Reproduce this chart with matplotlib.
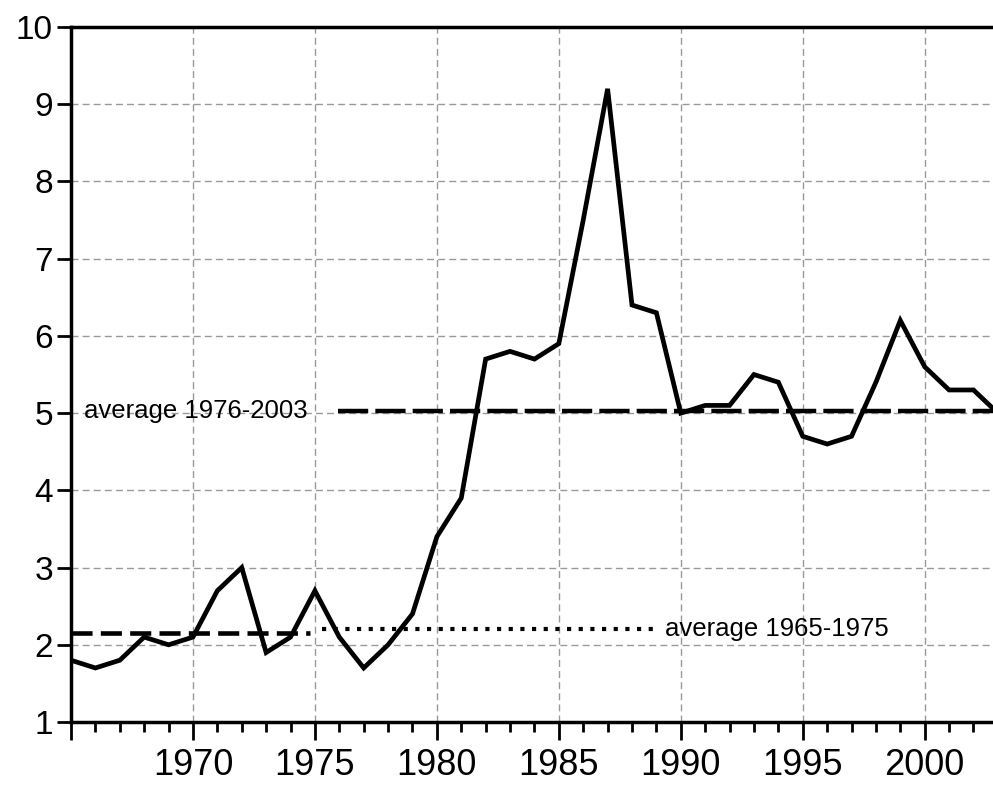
import numpy as np
import matplotlib.pyplot as plt
from matplotlib.ticker import MultipleLocator

# Yearly series
years = list(range(1965, 2004))
values = [1.8, 1.7, 1.8, 2.1, 2.0, 2.1, 2.7, 3.0, 1.9, 2.1,
          2.7, 2.1, 1.7, 2.0, 2.4, 3.4, 3.9, 5.7, 5.8, 5.7,
          5.9, 7.5, 9.2, 6.4, 6.3, 5.0, 5.1, 5.1, 5.5, 5.4,
          4.7, 4.6, 4.7, 5.4, 6.2, 5.6, 5.3, 5.3, 5.0]

# Period averages
avg_early_span = [1965, 1974.8]
avg_early = 2.15
avg_early_ext_span = [1975.3, 1988.9]
avg_early_ext = 2.21
avg_late_span = [1975.95, 2003]
avg_late = 5.03

labels = ['average 1976-2003', 'average 1965-1975']
label_x = [1965.55, 1989.35]
label_y = [avg_late, avg_early_ext]

plt.rcParams['font.family'] = ['Liberation Sans', 'DejaVu Sans']

fig = plt.figure(figsize=(9.93, 7.86), dpi=100)
ax = fig.add_axes([0.0715, 0.0814, 0.9285, 0.8842])

ax.plot(years, values, color='black', lw=3.4, solid_joinstyle='miter', zorder=3)
ax.plot(avg_early_span, [avg_early] * 2, color='black', lw=3.3,
        dashes=(4.6, 1.8), dash_capstyle='butt', zorder=3)
ax.plot(avg_early_ext_span, [avg_early_ext] * 2, color='black', lw=3,
        dashes=(1, 1.8), dash_capstyle='butt', zorder=3)
ax.plot(avg_late_span, [avg_late] * 2, color='black', lw=3.2,
        dashes=(6.8, 1.6), dash_capstyle='butt', zorder=3)

for txt, x, y in zip(labels, label_x, label_y):
    ax.text(x, y, txt, fontsize=18.5, va='center', ha='left')

ax.set_xlim(1965, 2002.8)
ax.set_ylim(1, 10)
ax.xaxis.set_minor_locator(MultipleLocator(1))
ax.yaxis.set_major_locator(MultipleLocator(1))
ax.set_xticks(range(1965, 2005, 5))
ax.set_xticklabels([''] + [str(y) for y in range(1970, 2005, 5)])

ax.tick_params(axis='y', which='major', direction='out', length=10, width=2,
               labelsize=24, pad=3)
ax.tick_params(axis='x', which='major', direction='out', length=13, width=2,
               labelsize=26, pad=6)
ax.tick_params(axis='x', which='minor', direction='out', length=7, width=2)

ax.grid(True, which='major', color='#999999', linestyle=(0, (5, 3)), lw=1)

for side in ['left', 'bottom', 'top']:
    ax.spines[side].set_linewidth(2.5)
ax.spines['right'].set_visible(False)

fig.savefig('out.png', dpi=100)
